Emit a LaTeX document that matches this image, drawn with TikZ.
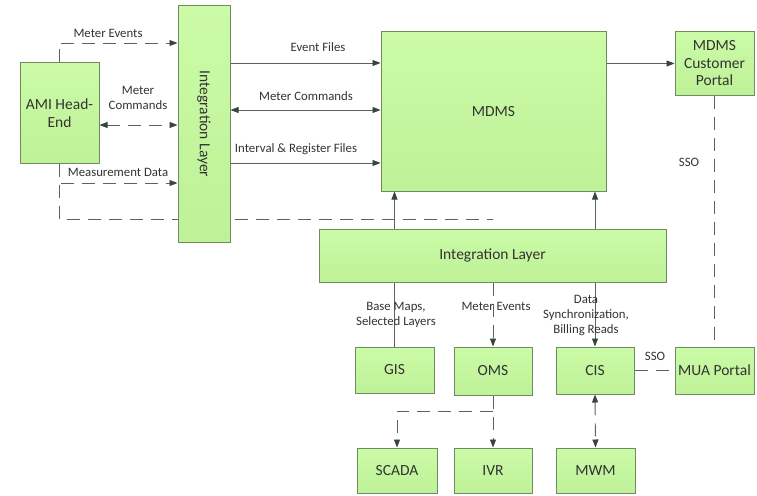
\documentclass[tikz,border=0pt]{standalone}
\usepackage{fontspec}
\setmainfont{Carlito}
\usetikzlibrary{arrows.meta,calc}
\pgfdeclarelayer{paper}
\pgfdeclarelayer{bg}
\pgfsetlayers{paper,bg,main}
\definecolor{filltop}{HTML}{CBFBA6}
\definecolor{fillbot}{HTML}{BEF198}
\definecolor{boxline}{HTML}{6E8C60}
\definecolor{wire}{HTML}{5E625C}
\definecolor{tip}{HTML}{37463A}
\definecolor{ink}{HTML}{333333}
\tikzset{
  x=1pt, y=-1pt,
  block/.style={draw=boxline, line width=1pt, top color=filltop, bottom color=fillbot,
    text=ink, align=center, inner sep=2pt, font=\fontsize{15.5}{17.5}\selectfont},
  wire/.style={draw=wire, line width=0.9pt},
  dline/.style={wire, dash pattern=on 13pt off 8pt},
  tipR/.style={-{Triangle[length=8pt,width=6pt,color=tip]}},
  tipB/.style={{Triangle[length=8pt,width=6pt,color=tip]}-{Triangle[length=8pt,width=6pt,color=tip]}},
  lbl/.style={text=ink, align=center, inner sep=0pt, font=\fontsize{12.8}{15}\selectfont},
}
\begin{document}
\begin{tikzpicture}
\useasboundingbox (0,0) rectangle (757,495);
\begin{pgfonlayer}{paper}
\fill[white] (0,0) rectangle (757,495);
\end{pgfonlayer}

% ---- blocks ----
\node[block, minimum width=79pt, minimum height=100pt] (ami) at (59.5,113) {AMI Head-\\End};
\node[block, minimum width=52pt, minimum height=236pt] (intv) at (204,124)
  {\rotatebox{-90}{Integration Layer}};
\node[block, minimum width=225pt, minimum height=159pt] (mdms) at (493.5,111.5) {MDMS};
\node[block, minimum width=79pt, minimum height=63pt] (mcp) at (714.5,63.5) {MDMS\\Customer\\Portal};
\node[block, minimum width=347pt, minimum height=53pt] (inth) at (492.5,255.5) {Integration Layer};
\node[block, minimum width=79pt, minimum height=46pt] (gis) at (394.5,370) {GIS};
\node[block, minimum width=78pt, minimum height=48pt] (oms) at (493,371) {OMS};
\node[block, minimum width=78pt, minimum height=47pt] (cis) at (595,370.5) {CIS};
\node[block, minimum width=79pt, minimum height=47pt] (mua) at (714.5,370.5) {MUA Portal};
\node[block, minimum width=80pt, minimum height=45pt] (scada) at (397,470.5) {SCADA};
\node[block, minimum width=78pt, minimum height=45pt] (ivr) at (493,470.5) {IVR};
\node[block, minimum width=79pt, minimum height=45pt] (mwm) at (595.5,470.5) {MWM};

% ---- routing rows ----
\coordinate (rowEvt) at (0,43);
\coordinate (rowCmd) at (0,125);
\coordinate (rowMeas) at (0,183);
\coordinate (loopEnd) at (493,219);
\coordinate (rowEF) at (0,63);
\coordinate (rowMC) at (0,110);
\coordinate (rowIR) at (0,163);
\coordinate (rowSplit) at (0,411);

\begin{pgfonlayer}{bg}
% AMI head-end to the vertical integration layer
\draw[dline, tipR] (ami.north) |- (intv.west |- rowEvt);
\draw[dline, tipB] (ami.east |- rowCmd) -- (intv.west |- rowCmd);
\draw[dline, tipR] (ami.south) |- (intv.west |- rowMeas);
\draw[dline] (ami.south) |- (loopEnd);

% vertical integration layer to MDMS
\draw[wire, tipR] (intv.east |- rowEF) -- (mdms.west |- rowEF);
\draw[wire, tipB] (intv.east |- rowMC) -- (mdms.west |- rowMC);
\draw[wire, tipR] (intv.east |- rowIR) -- (mdms.west |- rowIR);

% MDMS to customer portal, SSO link
\draw[wire, tipR] (mdms.east |- mcp.west) -- (mcp.west);
\draw[dline] (mcp.south) -- (mua.north);

% horizontal integration layer up to MDMS
\draw[wire, tipR] (inth.north -| gis) -- (mdms.south -| gis);
\draw[wire, tipR] (inth.north -| cis) -- (mdms.south -| cis);

% integration layer down to back-office systems
\draw[wire] (inth.south -| gis) -- (gis.north);
\draw[dline, tipR] (inth.south -| oms) -- (oms.north);
\draw[wire, tipR] (inth.south -| cis) -- (cis.north);
\draw[dline] (cis.east) -- (mua.west);

% OMS fan-out, CIS to MWM
\draw[dline, tipR] (oms.south) -- (ivr.north);
\draw[dline, tipR] (oms.south |- rowSplit) -| (scada.north);
\draw[dline, tipB] (cis.south) -- (mwm.north);
\end{pgfonlayer}

% ---- connector labels ----
\node[lbl] (lMe) at (108,33) {Meter Events};
\node[lbl] (lMc) at (138,98) {Meter\\Commands};
\node[lbl] (lMd) at (118,172) {Measurement Data};
\node[lbl] (lEf) at (318,47) {Event Files};
\node[lbl] (lMc2) at (306,96) {Meter Commands};
\node[lbl] (lIr) at (296,149) {Interval \& Register Files};
\node[lbl] (lSso1) at (689,162) {SSO};
\node[lbl] (lBm) at (396,315) {Base Maps,\\Selected Layers};
\node[lbl] (lMe2) at (496,306) {Meter Events};
\node[lbl] (lDs) at (586,315) {Data\\Synchronization,\\Billing Reads};
\node[lbl] (lSso2) at (655,356) {SSO};
\end{tikzpicture}
\end{document}
